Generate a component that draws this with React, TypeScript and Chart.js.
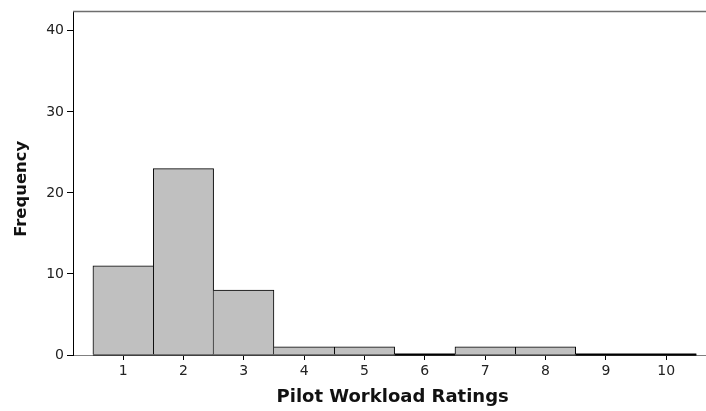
import React, { useEffect, useRef } from "react";
import { Chart, registerables } from "chart.js";
Chart.register(...registerables);

const ratings = [1, 2, 3, 4, 5, 6, 7, 8, 9, 10];
const frequency = [11, 23, 8, 1, 1, 0, 1, 1, 0, 0];
const yTickValues = [0, 10, 20, 30, 40];
const xTitle = " Pilot Workload Ratings";
const yTitle = "Frequency  ";

const FONT = "'DejaVu Sans', sans-serif";

export default function App() {
  const ref = useRef<HTMLCanvasElement>(null);
  useEffect(() => {
    document.body.style.margin = "0";
    const framePlugin = {
      id: "frame",
      afterDatasetsDraw(chart: any) {
        const { ctx, chartArea } = chart;
        const xs = chart.scales.x;
        const ys = chart.scales.y;
        const y0 = ys.getPixelForValue(0);
        ctx.save();
        ctx.strokeStyle = "#6e6e6e";
        ctx.lineWidth = 1.5;
        ctx.beginPath();
        ctx.moveTo(chartArea.left, chartArea.top);
        ctx.lineTo(chartArea.right, chartArea.top);
        ctx.stroke();
        ctx.strokeStyle = "#000";
        ctx.lineWidth = 1;
        ctx.beginPath();
        ctx.moveTo(xs.getPixelForValue(ratings[0] - 0.5), y0);
        ctx.lineTo(xs.getPixelForValue(ratings[ratings.length - 1] + 0.5), y0);
        ctx.stroke();
        ctx.lineWidth = 2;
        frequency.forEach((f, i) => {
          if (f === 0) {
            ctx.beginPath();
            ctx.moveTo(xs.getPixelForValue(ratings[i] - 0.5), y0 - 0.5);
            ctx.lineTo(xs.getPixelForValue(ratings[i] + 0.5), y0 - 0.5);
            ctx.stroke();
          }
        });
        ctx.restore();
      },
    };

    const chart = new Chart(ref.current!, {
      type: "bar",
      data: {
        datasets: [
          {
            data: ratings.map((r, i) => ({ x: r, y: frequency[i] })),
            backgroundColor: "#c0c0c0",
            borderColor: "#000",
            borderWidth: (c: any) => {
              const i = c.dataIndex;
              const v = frequency[i];
              const prev = i > 0 ? frequency[i - 1] : 0;
              const next = i < frequency.length - 1 ? frequency[i + 1] : 0;
              return {
                top: 1,
                bottom: 0,
                left: prev <= v ? 1 : 0,
                right: next < v ? 1 : 0,
              };
            },
            barPercentage: 1,
            categoryPercentage: 1,
          } as any,
        ],
      },
      options: {
        animation: false,
        responsive: false,
        layout: { padding: { top: 10, left: 0, right: 0, bottom: 0 } },
        plugins: { legend: { display: false }, tooltip: { enabled: false } },
        scales: {
          x: {
            type: "linear",
            min: 0.17,
            max: 10.66,
            offset: false,
            afterBuildTicks: (s: any) => {
              s.ticks = ratings.map((v) => ({ value: v }));
            },
            afterFit: (s: any) => {
              s.height = 56;
            },
            grid: { offset: false, drawOnChartArea: false, tickLength: 5, color: "#000" },
            border: { display: true, color: "#808080", width: 1 },
            ticks: {
              color: "#222",
              font: { family: FONT, size: 14 },
              padding: 3,
              maxRotation: 0,
              autoSkip: false,
            },
            title: {
              display: true,
              text: xTitle,
              color: "#111",
              font: { family: FONT, size: 18, weight: "bold" },
              padding: { top: 2, bottom: 3 },
            },
          },
          y: {
            type: "linear",
            min: 0,
            max: 42.4,
            afterBuildTicks: (s: any) => {
              s.ticks = yTickValues.map((v) => ({ value: v }));
            },
            afterFit: (s: any) => {
              s.width = 73;
            },
            grid: { drawOnChartArea: false, tickLength: 6, color: "#000" },
            border: { display: true, color: "#000", width: 1 },
            ticks: {
              color: "#222",
              font: { family: FONT, size: 14 },
              padding: 3,
            },
            title: {
              display: true,
              text: yTitle,
              color: "#111",
              font: { family: FONT, size: 16.4, weight: "bold" },
              padding: { top: 12, bottom: 0 },
            },
          },
        },
      } as any,
      plugins: [framePlugin],
    });
    return () => chart.destroy();
  }, []);
  return (
    <div style={{ width: 706, height: 411 }}>
      <canvas ref={ref} width={706} height={411} style={{ display: "block" }} />
    </div>
  );
}
